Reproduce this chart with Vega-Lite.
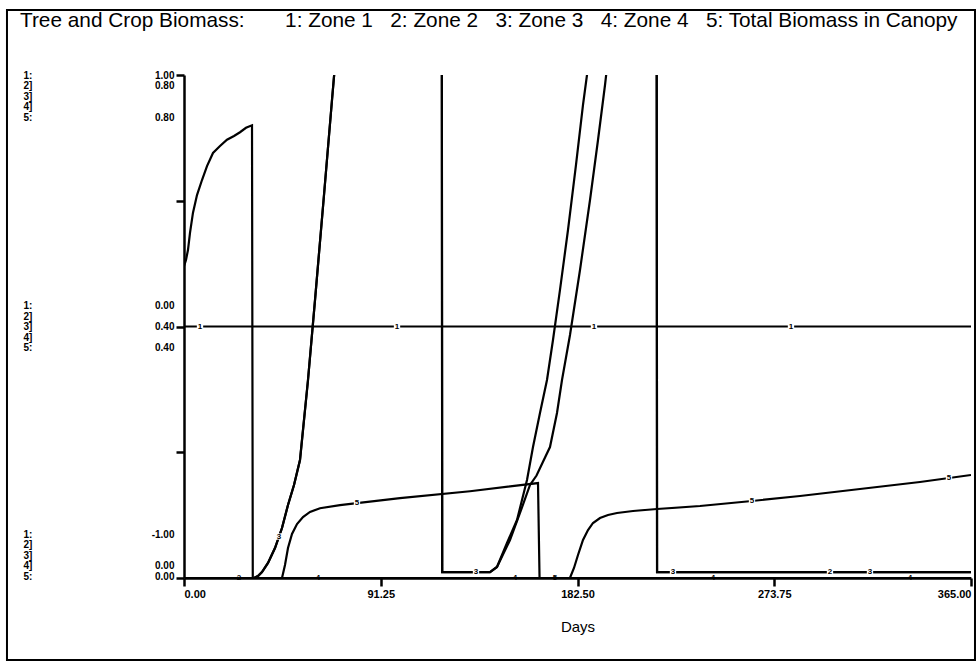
{
  "$schema": "https://vega.github.io/schema/vega-lite/v6.json",
  "width": 787,
  "height": 503,
  "autosize": {"type": "none"},
  "padding": {"left": 184, "top": 75, "right": 8, "bottom": 88},
  "background": "white",
  "config": {"view": {"stroke": null}, "axis": {"grid": false}, "font": "Liberation Sans"},
  "title": {
    "text": "Tree and Crop Biomass:\u00a0\u00a0\u00a0\u00a0\u00a0\u00a0\u00a01: Zone 1\u00a0\u00a0\u00a02: Zone 2\u00a0\u00a0\u00a03: Zone 3\u00a0\u00a0\u00a04: Zone 4\u00a0\u00a0\u00a05: Total Biomass in Canopy",
    "anchor": "start", "frame": "group", "dx": -164, "offset": -33,
    "fontSize": 20.8, "fontWeight": "normal", "font": "Liberation Sans", "color": "black", "baseline": "middle"
  },
  "datasets": {
    "series": [
      {"s": "1", "d": 0, "v": 0.4}, {"s": "1", "d": 365, "v": 0.4},
      {"s": "2", "d": 0, "v": 0}, {"s": "2", "d": 32.46, "v": 0}, {"s": "2", "d": 34.32, "v": 0.0032}, {"s": "2", "d": 36.17, "v": 0.0095}, {"s": "2", "d": 38.96, "v": 0.0239}, {"s": "2", "d": 42.2, "v": 0.0477}, {"s": "2", "d": 45.45, "v": 0.0795}, {"s": "2", "d": 48.23, "v": 0.1161}, {"s": "2", "d": 51.02, "v": 0.1479}, {"s": "2", "d": 53.8, "v": 0.1877}, {"s": "2", "d": 57.51, "v": 0.3149}, {"s": "2", "d": 60.76, "v": 0.4421}, {"s": "2", "d": 64.93, "v": 0.6091}, {"s": "2", "d": 68.64, "v": 0.7602}, {"s": "2", "d": 71.42, "v": 0.8716}, {"s": "2", "d": 73.28, "v": 0.951}, {"s": "2", "d": 75, "v": 1.0}, {"s": "2", "d": 119.55, "v": 1.0}, {"s": "2", "d": 119.75, "v": 0.0095}, {"s": "2", "d": 141.92, "v": 0.0095}, {"s": "2", "d": 145.16, "v": 0.0175}, {"s": "2", "d": 149.8, "v": 0.0557}, {"s": "2", "d": 154.44, "v": 0.0922}, {"s": "2", "d": 159.08, "v": 0.1559}, {"s": "2", "d": 161.86, "v": 0.2083}, {"s": "2", "d": 165.1, "v": 0.2624}, {"s": "2", "d": 168.35, "v": 0.3149}, {"s": "2", "d": 171.13, "v": 0.3785}, {"s": "2", "d": 174.38, "v": 0.4581}, {"s": "2", "d": 178.09, "v": 0.5535}, {"s": "2", "d": 181.8, "v": 0.6569}, {"s": "2", "d": 185.05, "v": 0.7523}, {"s": "2", "d": 186.9, "v": 0.8}, {"s": "2", "d": 188.76, "v": 0.8557}, {"s": "2", "d": 191, "v": 0.92}, {"s": "2", "d": 193, "v": 1.0}, {"s": "2", "d": 219.2, "v": 1.0}, {"s": "2", "d": 219.4, "v": 0.0095}, {"s": "2", "d": 365, "v": 0.0095},
      {"s": "3", "d": 0, "v": 0}, {"s": "3", "d": 32.46, "v": 0}, {"s": "3", "d": 34.32, "v": 0.0032}, {"s": "3", "d": 36.17, "v": 0.0095}, {"s": "3", "d": 38.96, "v": 0.0239}, {"s": "3", "d": 42.2, "v": 0.0477}, {"s": "3", "d": 45.45, "v": 0.0795}, {"s": "3", "d": 48.23, "v": 0.1161}, {"s": "3", "d": 51.02, "v": 0.1479}, {"s": "3", "d": 53.8, "v": 0.1877}, {"s": "3", "d": 57.51, "v": 0.3149}, {"s": "3", "d": 60.76, "v": 0.4421}, {"s": "3", "d": 64.93, "v": 0.6091}, {"s": "3", "d": 68.64, "v": 0.7602}, {"s": "3", "d": 71.42, "v": 0.8716}, {"s": "3", "d": 73.28, "v": 0.951}, {"s": "3", "d": 75, "v": 1.0}, {"s": "3", "d": 119.55, "v": 1.0}, {"s": "3", "d": 119.75, "v": 0.0095}, {"s": "3", "d": 141.92, "v": 0.0095}, {"s": "3", "d": 145.16, "v": 0.0175}, {"s": "3", "d": 151.19, "v": 0.0604}, {"s": "3", "d": 155.83, "v": 0.1034}, {"s": "3", "d": 160.47, "v": 0.148}, {"s": "3", "d": 163.5, "v": 0.163}, {"s": "3", "d": 166.5, "v": 0.185}, {"s": "3", "d": 169.74, "v": 0.2083}, {"s": "3", "d": 172.99, "v": 0.2624}, {"s": "3", "d": 175.31, "v": 0.3149}, {"s": "3", "d": 179.02, "v": 0.3865}, {"s": "3", "d": 183.66, "v": 0.4899}, {"s": "3", "d": 188.3, "v": 0.6012}, {"s": "3", "d": 192.01, "v": 0.6966}, {"s": "3", "d": 195.26, "v": 0.7841}, {"s": "3", "d": 197.11, "v": 0.8398}, {"s": "3", "d": 198.97, "v": 0.8875}, {"s": "3", "d": 201, "v": 1.0}, {"s": "3", "d": 219.2, "v": 1.0}, {"s": "3", "d": 219.4, "v": 0.0095}, {"s": "3", "d": 365, "v": 0.0095},
      {"s": "4", "d": 0, "v": 0}, {"s": "4", "d": 365, "v": 0},
      {"s": "5", "d": 0, "v": 0.496}, {"s": "5", "d": 0.93, "v": 0.506}, {"s": "5", "d": 1.86, "v": 0.522}, {"s": "5", "d": 2.78, "v": 0.549}, {"s": "5", "d": 4.17, "v": 0.581}, {"s": "5", "d": 6.03, "v": 0.609}, {"s": "5", "d": 8.35, "v": 0.633}, {"s": "5", "d": 10.67, "v": 0.655}, {"s": "5", "d": 13.45, "v": 0.676}, {"s": "5", "d": 16.7, "v": 0.687}, {"s": "5", "d": 19.94, "v": 0.697}, {"s": "5", "d": 23.19, "v": 0.703}, {"s": "5", "d": 25.97, "v": 0.709}, {"s": "5", "d": 28.75, "v": 0.716}, {"s": "5", "d": 31.54, "v": 0.72}, {"s": "5", "d": 31.9, "v": 0}, {"s": "5", "d": 45.45, "v": 0}, {"s": "5", "d": 46.84, "v": 0.0207}, {"s": "5", "d": 48.23, "v": 0.0477}, {"s": "5", "d": 50.09, "v": 0.07}, {"s": "5", "d": 52.41, "v": 0.0859}, {"s": "5", "d": 55.19, "v": 0.097}, {"s": "5", "d": 58.44, "v": 0.105}, {"s": "5", "d": 63.07, "v": 0.111}, {"s": "5", "d": 72.35, "v": 0.116}, {"s": "5", "d": 80.23, "v": 0.119}, {"s": "5", "d": 100.18, "v": 0.127}, {"s": "5", "d": 132.64, "v": 0.138}, {"s": "5", "d": 164.18, "v": 0.151}, {"s": "5", "d": 164.9, "v": 0}, {"s": "5", "d": 179.0, "v": 0}, {"s": "5", "d": 180.87, "v": 0.0159}, {"s": "5", "d": 182.73, "v": 0.0366}, {"s": "5", "d": 185.05, "v": 0.0604}, {"s": "5", "d": 187.37, "v": 0.0763}, {"s": "5", "d": 189.69, "v": 0.0875}, {"s": "5", "d": 192.93, "v": 0.0954}, {"s": "5", "d": 196.65, "v": 0.1002}, {"s": "5", "d": 200.82, "v": 0.1034}, {"s": "5", "d": 208.24, "v": 0.1066}, {"s": "5", "d": 219.37, "v": 0.1097}, {"s": "5", "d": 239.31, "v": 0.1145}, {"s": "5", "d": 263.43, "v": 0.1225}, {"s": "5", "d": 285.69, "v": 0.1304}, {"s": "5", "d": 313.51, "v": 0.1416}, {"s": "5", "d": 341.34, "v": 0.1527}, {"s": "5", "d": 365, "v": 0.1638}
    ],
    "labels": [
      {"s": "1", "d": 7.42, "v": 0.4, "t": "1"}, {"s": "1", "d": 98.79, "v": 0.4, "t": "1"}, {"s": "1", "d": 190.15, "v": 0.4, "t": "1"}, {"s": "1", "d": 281.51, "v": 0.4, "t": "1"},
      {"s": "2", "d": 25.51, "v": 0, "t": "2"}, {"s": "2", "d": 299.6, "v": 0.0095, "t": "2"},
      {"s": "3", "d": 44.06, "v": 0.066, "t": "3"}, {"s": "3", "d": 135.42, "v": 0.0095, "t": "3"}, {"s": "3", "d": 226.79, "v": 0.0095, "t": "3"}, {"s": "3", "d": 318.15, "v": 0.0095, "t": "3"},
      {"s": "4", "d": 62.15, "v": 0, "t": "4"}, {"s": "4", "d": 153.51, "v": 0, "t": "4"}, {"s": "4", "d": 245.34, "v": 0, "t": "4"}, {"s": "4", "d": 336.7, "v": 0, "t": "4"},
      {"s": "5", "d": 80.23, "v": 0.119, "t": "5"}, {"s": "5", "d": 172.06, "v": 0, "t": "5"}, {"s": "5", "d": 263.43, "v": 0.1225, "t": "5"}, {"s": "5", "d": 354.79, "v": 0.159, "t": "5"}
    ]
  },
  "layer": [
    {
      "data": {"values": [{}]},
      "mark": {"type": "rect", "fill": "white", "fillOpacity": 0, "stroke": "black", "strokeWidth": 2},
      "encoding": {
        "x": {"datum": -82.1, "type": "quantitative", "scale": {"domain": [0, 365], "nice": false},
          "axis": {"values": [0, 91.25, 182.5, 273.75, 365], "format": ".2f", "title": "Days", "titleFontSize": 15, "titleFontWeight": "normal", "titleColor": "black", "titlePadding": 20, "labelFontSize": 11, "labelFontWeight": "bold", "labelColor": "black", "labelPadding": 2, "tickSize": 8, "tickWidth": 2.5, "tickColor": "black", "domainColor": "black", "domainWidth": 2.5, "labelOverlap": false, "grid": false}},
        "x2": {"datum": 366.85},
        "y": {"datum": 0.9034, "type": "quantitative", "scale": {"domain": [0, 0.8], "nice": false}, "axis": null},
        "y2": {"datum": -0.1304}
      }
    },
    {
      "data": {"name": "series"},
      "mark": {"type": "line", "clip": true, "color": "black", "strokeWidth": 2.2},
      "encoding": {
        "x": {"field": "d", "type": "quantitative", "scale": {"domain": [0, 365], "nice": false},
          "axis": {"values": [0, 91.25, 182.5, 273.75, 365], "format": ".2f", "title": "Days", "titleFontSize": 15, "titleFontWeight": "normal", "titleColor": "black", "titlePadding": 20, "labelFontSize": 11, "labelFontWeight": "bold", "labelColor": "black", "labelPadding": 2, "tickSize": 8, "tickWidth": 2.5, "tickColor": "black", "domainColor": "black", "domainWidth": 2.5, "labelOverlap": false, "grid": false}},
        "y": {"field": "v", "type": "quantitative", "scale": {"domain": [0, 0.8], "nice": false},
          "axis": {"values": [0, 0.2, 0.4, 0.6, 0.8], "title": null,
            "labelExpr": "abs(datum.value-0.8)<0.01 ? ['1.00','0.80','\u2800','\u2800','0.80'] : abs(datum.value-0.4)<0.01 ? ['0.00','\u2800','0.40','\u2800','0.40'] : abs(datum.value)<0.01 ? ['-1.00','\u2800','\u2800','0.00','0.00'] : ''",
            "labelOffset": {"condition": [{"test": "datum.value > 0.7", "value": 0}, {"test": "datum.value < 0.1", "value": -44}], "value": -21},
            "labelFontSize": 10, "labelFontWeight": "bold", "labelColor": "black", "labelLineHeight": 10.5, "labelBaseline": "middle", "labelPadding": 2, "tickSize": 8, "tickWidth": 2.5, "tickColor": "black", "domainColor": "black", "domainWidth": 2.5, "labelOverlap": false, "grid": false}},
        "detail": {"field": "s"}
      }
    },
    {
      "data": {"name": "labels"},
      "transform": [{"filter": "datum.v > 0.005"}],
      "mark": {"type": "point", "shape": "square", "filled": true, "color": "white", "opacity": 1, "size": 40},
      "encoding": {
        "x": {"field": "d", "type": "quantitative", "scale": {"domain": [0, 365], "nice": false},
          "axis": {"values": [0, 91.25, 182.5, 273.75, 365], "format": ".2f", "title": "Days", "titleFontSize": 15, "titleFontWeight": "normal", "titleColor": "black", "titlePadding": 20, "labelFontSize": 11, "labelFontWeight": "bold", "labelColor": "black", "labelPadding": 2, "tickSize": 8, "tickWidth": 2.5, "tickColor": "black", "domainColor": "black", "domainWidth": 2.5, "labelOverlap": false, "grid": false}},
        "y": {"field": "v", "type": "quantitative", "scale": {"domain": [0, 0.8], "nice": false}, "axis": null}
      }
    },
    {
      "data": {"name": "labels"},
      "mark": {"type": "text", "fontSize": 8, "fontWeight": "bold", "color": "black", "baseline": "middle", "align": "center"},
      "encoding": {
        "x": {"field": "d", "type": "quantitative", "scale": {"domain": [0, 365], "nice": false},
          "axis": {"values": [0, 91.25, 182.5, 273.75, 365], "format": ".2f", "title": "Days", "titleFontSize": 15, "titleFontWeight": "normal", "titleColor": "black", "titlePadding": 20, "labelFontSize": 11, "labelFontWeight": "bold", "labelColor": "black", "labelPadding": 2, "tickSize": 8, "tickWidth": 2.5, "tickColor": "black", "domainColor": "black", "domainWidth": 2.5, "labelOverlap": false, "grid": false}},
        "y": {"field": "v", "type": "quantitative", "scale": {"domain": [0, 0.8], "nice": false},
          "axis": {"orient": "left", "offset": 161, "values": [0, 0.4, 0.8], "title": null,
            "labelExpr": "['1:','2]','3]','4]','5:']",
            "labelOffset": {"condition": [{"test": "datum.value > 0.7", "value": 0}, {"test": "datum.value < 0.1", "value": -44}], "value": -21},
            "labelAlign": "left", "labelPadding": 0, "domain": false, "ticks": false, "labelFontSize": 10, "labelFontWeight": "bold", "labelColor": "black", "labelLineHeight": 10.5, "labelBaseline": "middle", "labelOverlap": false, "grid": false}},
        "text": {"field": "t"}
      }
    }
  ],
  "resolve": {"scale": {"y": "independent"}}
}
